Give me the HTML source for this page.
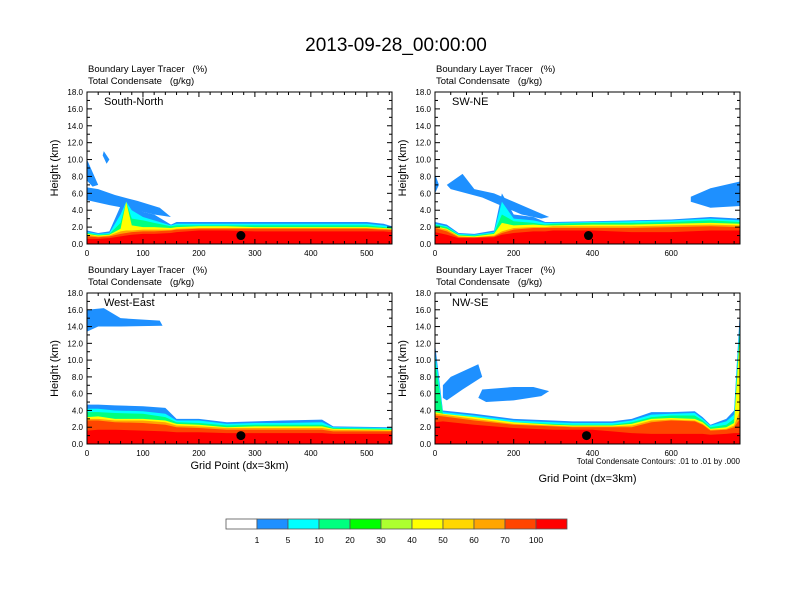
<!DOCTYPE html>
<html><head><meta charset="utf-8"><style>
body{margin:0;background:#fff;}
svg{display:block;font-family:"Liberation Sans",Arial,sans-serif;}
</style></head><body>
<svg id="chart" width="792" height="612" viewBox="0 0 792 612">
<text x="396" y="51" font-size="19" text-anchor="middle">2013-09-28_00:00:00</text>
</svg>
<script>
const ns='http://www.w3.org/2000/svg';
const svg=document.getElementById('chart');
const levelColors=['#1e90ff','#00ffff','#00ff7f','#ffff00','#ffa500','#ff4500','#ff0000'];
const levelNames=['blue-1','cyan-5','springgreen-10','yellow-40','orange-60','orangered-70','red-100'];
const cbLabels=['1','5','10','20','30','40','50','60','70','100'];
const cbColors=['#ffffff','#1e90ff','#00ffff','#00ff7f','#00ff00','#adff2f','#ffff00','#ffd700','#ffa500','#ff4500','#ff0000'];

// Panel 1: South-North
const p1X=[0,20,40,60,70,80,100,120,150,160,200,250,300,400,500,530,545];
const p1Tops=[
[1.6,1.3,1.5,4.5,5,4.5,3.8,3.5,2.3,2.6,2.6,2.6,2.6,2.6,2.6,2.4,2.1],
[1.4,1.2,1.3,3.5,5,4,3.2,2.8,2.2,2.4,2.4,2.4,2.4,2.4,2.4,2.2,2.0],
[1.3,1.1,1.2,2.5,5,3,2.8,2.5,2.1,2.2,2.2,2.2,2.2,2.2,2.2,2.0,1.9],
[1.2,1.0,1.1,1.8,5,2.2,2.0,2.0,1.9,2.0,2.1,2.1,2.0,2.0,2.0,1.9,1.8],
[1.1,0.9,1.0,1.5,1.6,1.6,1.7,1.7,1.7,1.8,1.9,1.9,1.9,1.9,1.9,1.8,1.7],
[0.9,0.8,0.9,1.2,1.3,1.4,1.5,1.5,1.6,1.7,1.8,1.8,1.8,1.8,1.8,1.7,1.7],
[0.6,0.6,0.7,0.9,1.0,1.1,1.2,1.2,1.3,1.4,1.6,1.6,1.5,1.5,1.5,1.5,1.4]];
const p1Blobs=[[[0,6.7],[20,6.5],[50,5.8],[90,5.1],[130,4.3],[150,3.2],[120,3.5],[80,4.1],[40,4.6],[0,5.2]],
[[0,10],[10,8.5],[20,7],[10,6.8],[0,7.5]],[[30,11],[40,10],[35,9.5],[28,10.5]]];
const p1Dot=[275,1.0];

// Panel 2: SW-NE
const p2X=[0,30,60,100,150,170,200,250,280,300,400,500,600,700,775];
const p2Tops=[
[2.6,2.3,1.3,1.2,1.6,6.0,3.5,3.2,2.6,2.6,2.7,2.8,2.9,3.2,3.0],
[2.4,2.1,1.2,1.1,1.4,5.0,3.0,2.8,2.5,2.5,2.6,2.7,2.8,3.0,2.8],
[2.3,2.0,1.1,1.0,1.3,3.5,2.7,2.5,2.3,2.4,2.5,2.5,2.6,2.8,2.6],
[2.1,1.8,1.0,0.9,1.2,2.5,2.2,2.3,2.2,2.2,2.3,2.3,2.4,2.5,2.4],
[2.0,1.7,0.9,0.8,1.0,1.5,1.9,2.0,2.0,2.1,2.1,2.1,2.2,2.3,2.2],
[1.9,1.5,0.8,0.8,0.9,1.3,1.7,1.9,1.9,1.9,1.9,1.9,2.0,2.1,2.0],
[1.4,1.1,0.7,0.7,0.8,1.1,1.3,1.5,1.5,1.6,1.6,1.4,1.4,1.6,1.6]];
const p2Blobs=[[[30,7],[70,8.3],[100,6.5],[150,6],[200,5],[250,4],[290,3.2],[270,3],[220,3.5],[170,4.5],[120,5.5],[40,6.5]],
[[0,8.3],[10,7],[0,6]],[[650,5.6],[700,6.6],[775,7.4],[775,4.5],[700,4.3],[650,5]]];
const p2Dot=[390,1.0];

// Panel 3: West-East
const p3X=[0,20,50,100,140,160,200,250,300,350,420,440,545];
const p3Tops=[
[4.7,4.7,4.6,4.5,4.3,3.0,3.0,2.6,2.7,2.8,2.9,2.1,2.0],
[4.2,4.2,4.0,3.9,3.6,2.8,2.8,2.4,2.5,2.5,2.6,2.0,1.9],
[3.8,3.8,3.7,3.6,3.2,2.6,2.5,2.2,2.3,2.3,2.3,1.9,1.8],
[3.2,3.3,3.0,3.0,2.8,2.4,2.3,2.0,2.1,2.1,2.1,1.8,1.7],
[3.0,3.0,2.8,2.8,2.6,2.2,2.1,1.9,1.9,1.9,1.9,1.7,1.6],
[2.8,2.8,2.6,2.5,2.3,2.0,1.9,1.7,1.7,1.7,1.7,1.5,1.5],
[1.6,1.7,1.7,1.6,1.5,1.4,1.4,1.3,1.3,1.3,1.3,1.2,1.2]];
const p3Blobs=[[[0,16],[30,16.2],[60,15],[130,14.7],[135,14.1],[60,14],[20,14],[0,13.4]]];
const p3Dot=[275,1.0];

// Panel 4: NW-SE
const p4X=[0,20,100,200,300,350,400,450,500,550,600,660,680,700,740,760,775];
const p4Tops=[
[12,4.0,3.6,3.0,2.8,2.7,2.7,2.7,3.0,3.8,3.8,3.9,3.2,2.3,3.0,4.0,16],
[11,3.8,3.4,2.8,2.6,2.5,2.5,2.5,2.8,3.5,3.6,3.7,3.0,2.2,2.7,3.5,15],
[10,3.6,3.2,2.6,2.4,2.3,2.3,2.3,2.6,3.2,3.4,3.4,2.8,2.0,2.3,3.0,14],
[3.8,3.6,3.2,2.6,2.3,2.2,2.2,2.2,2.4,3.0,3.1,3.0,2.6,1.8,2.0,2.5,13],
[3.6,3.5,3.0,2.4,2.2,2.1,2.1,2.1,2.2,2.8,2.9,2.8,2.4,1.7,1.8,2.2,4],
[3.4,3.3,2.8,2.3,2.1,2.0,2.0,2.0,2.0,2.6,2.8,2.7,2.3,1.6,1.7,2.0,3],
[2.6,2.7,2.3,1.9,1.7,1.7,1.7,1.5,1.3,1.2,1.2,1.2,1.2,1.1,1.2,1.3,1.3]];
const p4Blobs=[[[20,7],[40,8],[110,9.5],[120,8],[70,6.5],[30,5.2],[20,5.5]],
[[110,5.5],[120,6.5],[200,6.8],[250,6.8],[290,6.3],[270,5.7],[200,5.2],[130,5]]];
const p4Dot=[385,1.0];

const panels=[
{name:'south-north',label:'South-North',x0:87,x1:392,y0:92,y1:244,xmax:545,xt:[0,100,200,300,400,500],X:p1X,T:p1Tops,B:p1Blobs,D:p1Dot,hy:72,xlab:null},
{name:'sw-ne',label:'SW-NE',x0:435,x1:740,y0:92,y1:244,xmax:775,xt:[0,200,400,600],X:p2X,T:p2Tops,B:p2Blobs,D:p2Dot,hy:72,xlab:null},
{name:'west-east',label:'West-East',x0:87,x1:392,y0:293,y1:444,xmax:545,xt:[0,100,200,300,400,500],X:p3X,T:p3Tops,B:p3Blobs,D:p3Dot,hy:273,xlab:469},
{name:'nw-se',label:'NW-SE',x0:435,x1:740,y0:293,y1:444,xmax:775,xt:[0,200,400,600],X:p4X,T:p4Tops,B:p4Blobs,D:p4Dot,hy:273,xlab:482}];
const yTicks=[0,2,4,6,8,10,12,14,16,18];

function mk(tag,attrs,parent){const e=document.createElementNS(ns,tag);for(const k in attrs)e.setAttribute(k,attrs[k]);(parent||svg).appendChild(e);return e;}

panels.forEach(p=>{
  const g=mk('g',{});
  
  
  const sx=v=>p.x0+v/p.xmax*(p.x1-p.x0);
  const sy=v=>p.y1-v/18*(p.y1-p.y0);
  const cp='clip-'+p.name;
  const cl=mk('clipPath',{id:cp},g);mk('rect',{x:p.x0,y:p.y0,width:p.x1-p.x0,height:p.y1-p.y0},cl);
  const pg=mk('g',{'clip-path':'url(#'+cp+')'},g);
  p.B.forEach((b,i)=>{
    const el=mk('polygon',{points:b.map(q=>sx(q[0])+','+sy(q[1])).join(' '),fill:levelColors[0]},pg);
    
    
  });
  p.T.forEach((tops,li)=>{
    let pts=sx(p.X[0])+','+sy(0);
    p.X.forEach((x,i)=>{pts+=' '+sx(x)+','+sy(tops[i]);});
    pts+=' '+sx(p.X[p.X.length-1])+','+sy(0);
    const el=mk('polygon',{points:pts,fill:levelColors[li]},pg);
    
    
  });
  const dot=mk('circle',{cx:sx(p.D[0]),cy:sy(p.D[1]),r:4.5,fill:'#000'},pg);
  
  
  const fr=mk('rect',{x:p.x0,y:p.y0,width:p.x1-p.x0,height:p.y1-p.y0,fill:'none',stroke:'#000','stroke-width':1},g);
  
  
  for(let v=0;v<=18;v+=1){const y=sy(v),L=v%2?3:5;
    mk('line',{x1:p.x0,x2:p.x0+L,y1:y,y2:y,stroke:'#000'},g);mk('line',{x1:p.x1,x2:p.x1-L,y1:y,y2:y,stroke:'#000'},g);}
  yTicks.forEach(v=>{const t=mk('text',{x:p.x0-4,y:sy(v)+3,'font-size':8,'text-anchor':'end'},g);t.textContent=v.toFixed(1);
    });
  const step=p.xt[1]-p.xt[0];
  for(let v=0;v<=p.xmax;v+=step/5){const x=sx(v),L=(Math.abs(v/step-Math.round(v/step))<1e-6)?5:3;
    mk('line',{x1:x,x2:x,y1:p.y1,y2:p.y1-L,stroke:'#000'},g);mk('line',{x1:x,x2:x,y1:p.y0,y2:p.y0+L,stroke:'#000'},g);}
  p.xt.forEach(v=>{const t=mk('text',{x:sx(v),y:p.y1+12,'font-size':8,'text-anchor':'middle'},g);t.textContent=v;
    });
  const yl=mk('text',{x:0,y:0,'font-size':11,'text-anchor':'middle',transform:'translate('+(p.x0-29)+','+((p.y0+p.y1)/2)+') rotate(-90)'},g);
  yl.textContent='Height (km)';
  const h1=mk('text',{x:p.x0+1,y:p.hy,'font-size':9.5},g);h1.textContent='Boundary Layer Tracer\u00a0\u00a0\u00a0(%)';
  
  const h2=mk('text',{x:p.x0+1,y:p.hy+12,'font-size':9.5},g);h2.textContent='Total Condensate\u00a0\u00a0\u00a0(g/kg)';
  
  const pl=mk('text',{x:p.x0+17,y:p.y0+13,'font-size':11},g);pl.textContent=p.label;
  
  if(p.xlab){const xl=mk('text',{x:(p.x0+p.x1)/2,y:p.xlab,'font-size':11,'text-anchor':'middle'},g);xl.textContent='Grid Point (dx=3km)';
    }
});
const cn=mk('text',{x:740,y:464,'font-size':8,'text-anchor':'end'});
cn.textContent='Total Condensate Contours: .01 to .01 by .000';



const cb=mk('g',{});


const cbx=226,cbw=31,cby=519,cbh=10;
cbColors.forEach((c,i)=>{const r=mk('rect',{x:cbx+i*cbw,y:cby,width:cbw,height:cbh,fill:c,stroke:'#555','stroke-width':0.8},cb);
  });
cbLabels.forEach((l,i)=>{const t=mk('text',{x:cbx+(i+1)*cbw,y:cby+24,'font-size':8.5,'text-anchor':'middle'},cb);t.textContent=l;
  });
</script>
</body></html>
